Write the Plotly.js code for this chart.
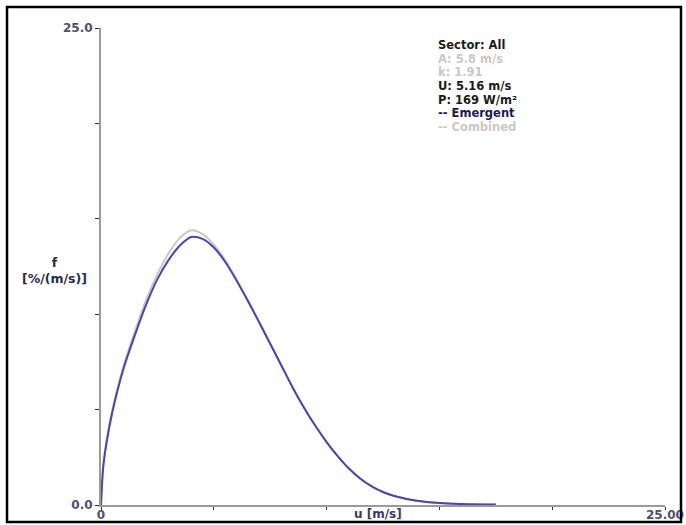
<!DOCTYPE html>
<html>
<head>
<meta charset="utf-8">
<script src="https://cdn.plot.ly/plotly-3.0.1.min.js"></script>
<style>html,body{margin:0;padding:0;background:#fff;}#chart{width:686px;height:525px;}</style>
</head>
<body>
<div id="chart"></div>
<script>
// Wind speed bins [m/s]
const windSpeed = [0, 0.1, 0.25, 0.5, 1, 1.5, 2, 2.5, 3, 3.5, 4, 4.5, 5, 5.5, 6, 6.5, 7, 7.5, 8, 8.5, 9, 9.5, 10, 10.5, 11, 11.5, 12, 12.5, 13, 14, 15, 16, 17.5];
// Frequency [%/(m/s)] - Emergent
const emergent = [0, 2.0, 3.3, 4.85, 7.15, 8.9, 10.5, 11.84, 12.85, 13.6, 14.05, 13.95, 13.5, 12.75, 11.78, 10.72, 9.6, 8.45, 7.3, 6.15, 5.1, 4.15, 3.3, 2.55, 1.9, 1.38, 0.98, 0.68, 0.47, 0.22, 0.1, 0.05, 0.02];
// Frequency [%/(m/s)] - Combined
const combined = [0, 2.1, 3.4, 5.0, 7.3, 9.1, 10.75, 12.1, 13.2, 14.0, 14.4, 14.2, 13.65, 12.85, 11.82, 10.74, 9.6, 8.45, 7.3, 6.15, 5.1, 4.15, 3.3, 2.55, 1.9, 1.38, 0.98, 0.68, 0.47, 0.22, 0.1, 0.05, 0.02];
// Axis ticks
const xTickVals = [0, 5, 10, 15, 20, 25];
const xTickText = ["0", "", "", "", "", "25.00"];
const yTickVals = [0, 5, 10, 15, 20, 25];
const yTickText = ["0.0", "", "", "", "", "25.0"];
// Info text
const infoLines = ["Sector: All", "A: 5.8 m/s", "k: 1.91", "U: 5.16 m/s", "P: 169 W/m²", "-- Emergent", "-- Combined"];
const infoColors = ["#1a1a1a", "#c8c8c8", "#c8c8c8", "#1a1a1a", "#1a1a1a", "#1a1a5a", "#c8c8c8"];

const FONT = 'DejaVu Sans';
const traces = [
  {x: windSpeed, y: combined, type: 'scatter', mode: 'lines', line: {color: '#c8c8c8', width: 2, shape: 'spline', smoothing: 1}, hoverinfo: 'skip'},
  {x: windSpeed, y: emergent, type: 'scatter', mode: 'lines', line: {color: '#4646b4', width: 2, shape: 'spline', smoothing: 1}, hoverinfo: 'skip'}
];

const annotations = infoLines.map((t, i) => ({
  xref: 'paper', yref: 'paper', x: (436 - 101) / 564, y: 1 - (45 + i * 13.7 - 28) / 477,
  xanchor: 'left', yanchor: 'middle', showarrow: false, text: '<b>' + t + '</b>',
  font: {family: FONT, size: 11.5, color: infoColors[i]}
}));
annotations.push({xref: 'paper', yref: 'paper', x: (55 - 101) / 564, y: 1 - (270 - 28) / 477,
  xanchor: 'center', yanchor: 'middle', showarrow: false, text: '<b>f</b><br><b>[%/(m/s)]</b>',
  font: {family: FONT, size: 12.5, color: '#2a2a4a'}});
annotations.push({xref: 'paper', yref: 'paper', x: (378 - 101) / 564, y: -(514 - 505) / 477,
  xanchor: 'center', yanchor: 'middle', showarrow: false, text: '<b>u [m/s]</b>',
  font: {family: FONT, size: 12, color: '#3a3a6a'}});

const tickFont = {family: FONT, size: 12, color: '#4e4e72', weight: 'bold'};
const layout = {
  width: 686, height: 525,
  margin: {l: 101, r: 21, t: 28, b: 20, pad: 0},
  paper_bgcolor: '#fff', plot_bgcolor: '#fff',
  showlegend: false,
  font: {family: FONT, size: 12, color: '#3a3a5a'},
  xaxis: {range: [0, 25], tickmode: 'array', tickvals: xTickVals, ticktext: xTickText,
    showgrid: false, zeroline: false, showline: true, linecolor: '#9a9a9a', linewidth: 2,
    ticks: 'outside', ticklen: 3, tickcolor: '#333', tickwidth: 1, ticklabelstandoff: -5,
    tickfont: tickFont, fixedrange: true},
  yaxis: {range: [0, 25], tickmode: 'array', tickvals: yTickVals, ticktext: yTickText,
    showgrid: false, zeroline: false, showline: true, linecolor: '#9a9a9a', linewidth: 2,
    ticks: 'outside', ticklen: 4, tickcolor: '#333', tickwidth: 1,
    tickfont: tickFont, fixedrange: true},
  annotations: annotations,
  shapes: [{type: 'rect', xref: 'paper', yref: 'paper',
    x0: (7 - 101) / 564, x1: (681 - 101) / 564, y0: -(522 - 505) / 477, y1: 1 + (28 - 7) / 477,
    line: {color: '#000', width: 2.5}, fillcolor: 'rgba(0,0,0,0)'}]
};

Plotly.newPlot('chart', traces, layout, {displayModeBar: false, staticPlot: true});
</script>
</body>
</html>
